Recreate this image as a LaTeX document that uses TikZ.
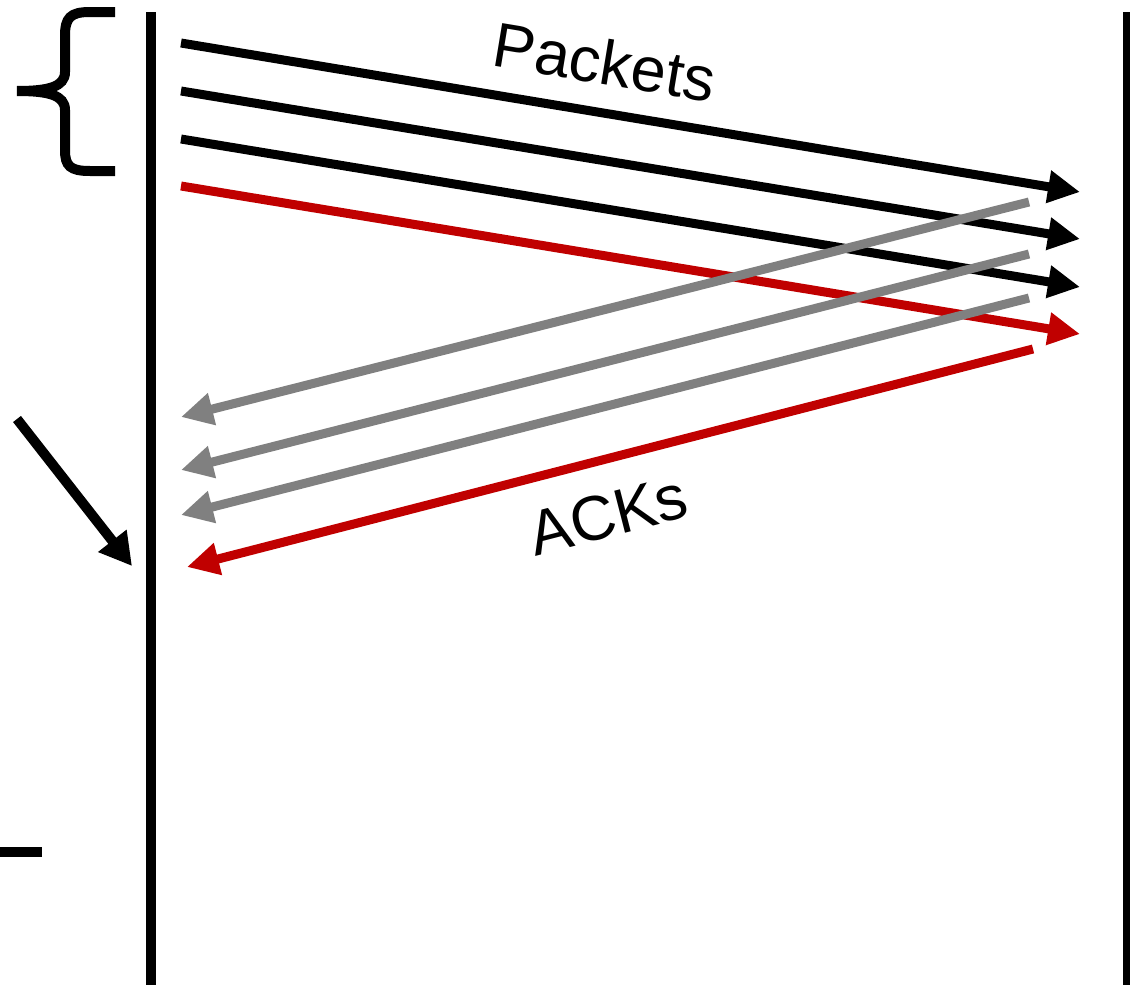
\documentclass[tikz,border=0pt]{standalone}
\usepackage{fontspec}
\setmainfont{Liberation Sans}
\usetikzlibrary{arrows.meta}
\definecolor{ackgray}{HTML}{808080}
\definecolor{lossred}{HTML}{C00000}
\begin{document}
\begin{tikzpicture}[x=1pt,y=-1pt,
  timeline/.style={line width=10pt},
  msg/.style={line width=9pt,-{Triangle[length=32pt,width=31pt]}},
  pkt/.style={msg,black},
  ack/.style={msg,ackgray},
  lost/.style={msg,lossred},
  lbl/.style={font=\fontsize{63}{63}\selectfont,inner sep=0pt}]
\useasboundingbox (0,0) rectangle (1130,985);

% sender and receiver timelines
\coordinate (sTop) at (150.5,12);
\coordinate (sBot) at (150.5,990);
\coordinate (rTop) at (1127.5,12);
\coordinate (rBot) at (1127.5,990);
\draw[timeline] (sTop) -- (sBot);
\draw[timeline] (rTop) -- (rBot);

% window brace
\draw[line width=10pt,line join=miter]
  (115,12) -- (90,12) .. controls (70,12) and (65,18) .. (65,36) -- (65,72)
  .. controls (65,87) and (48,91) .. (17,91)
  .. controls (48,91) and (65,95) .. (65,110) -- (65,150)
  .. controls (65,166) and (70,171) .. (90,171) -- (115,171);

% data packets
\coordinate (p1s) at (181,43);  \coordinate (p1e) at (1080,192);
\coordinate (p2s) at (181,91);  \coordinate (p2e) at (1080,239);
\coordinate (p3s) at (181,139); \coordinate (p3e) at (1080,287);
\coordinate (p4s) at (181,186); \coordinate (p4e) at (1080,334);
\draw[pkt]  (p1s) -- (p1e);
\draw[pkt]  (p2s) -- (p2e);
\draw[pkt]  (p3s) -- (p3e);
\draw[lost] (p4s) -- (p4e);

% acknowledgements
\coordinate (a1s) at (1029,202); \coordinate (a1e) at (181,417);
\coordinate (a2s) at (1029,254); \coordinate (a2e) at (181,470);
\coordinate (a3s) at (1029,298); \coordinate (a3e) at (181,515);
\coordinate (a4s) at (1033,349); \coordinate (a4e) at (187,567);
\draw[ack]  (a1s) -- (a1e);
\draw[ack]  (a2s) -- (a2e);
\draw[ack]  (a3s) -- (a3e);
\draw[lost] (a4s) -- (a4e);

% pointer to the last ACK arrival
\coordinate (ptrS) at (17,419);
\coordinate (ptrE) at (132,566);
\draw[line width=10pt,-{Triangle[length=32pt,width=34pt]}] (ptrS) -- (ptrE);

% tick mark
\coordinate (tickL) at (0,852);
\coordinate (tickR) at (42,852);
\draw[line width=10pt] (tickL) -- (tickR);

% labels
\node[lbl,rotate=-9.4] (packets) at (605,62) {Packets};
\node[lbl,rotate=14.4] (acks) at (608,515) {ACKs};
\end{tikzpicture}
\end{document}
